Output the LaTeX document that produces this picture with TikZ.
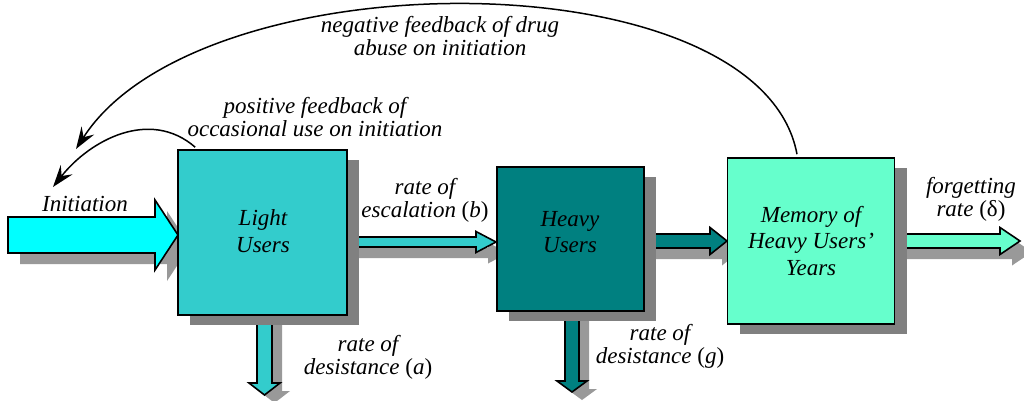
\documentclass[tikz,border=0pt]{standalone}
\usepackage{fontspec}
\setmainfont{Liberation Serif}
\newfontfamily\dgfont{Liberation Serif}
\usetikzlibrary{arrows.meta,shadows}
\definecolor{lightc}{HTML}{33CCCC}
\definecolor{heavyc}{HTML}{008080}
\definecolor{memc}{HTML}{66FFCC}
\definecolor{initc}{HTML}{00FFFF}
\definecolor{boxsh}{HTML}{808080}
\definecolor{arrsh}{HTML}{999999}
\newcommand{\blockH}[7]{%
  \fill[arrsh] ({#1+12},{#3-#4+11}) -- ({#2-#6+12},{#3-#4+11}) -- ({#2-#6+12},{#3-#5+11}) -- ({#2+12},{#3+11}) -- ({#2-#6+12},{#3+#5+11}) -- ({#2-#6+12},{#3+#4+11}) -- ({#1+12},{#3+#4+11}) -- cycle;
  \filldraw[fill=#7,draw=black,line width=1.6pt,line join=miter] (#1,{#3-#4}) -- ({#2-#6},{#3-#4}) -- ({#2-#6},{#3-#5}) -- (#2,#3) -- ({#2-#6},{#3+#5}) -- ({#2-#6},{#3+#4}) -- (#1,{#3+#4}) -- cycle;}
\newcommand{\blockV}[7]{%
  \fill[arrsh] ({#1-#4+10},{#2+8}) -- ({#1-#4+10},{#3-#6+8}) -- ({#1-#5+10},{#3-#6+8}) -- ({#1+10},{#3+8}) -- ({#1+#5+10},{#3-#6+8}) -- ({#1+#4+10},{#3-#6+8}) -- ({#1+#4+10},{#2+8}) -- cycle;
  \filldraw[fill=#7,draw=black,line width=1.6pt,line join=miter] ({#1-#4},#2) -- ({#1-#4},{#3-#6}) -- ({#1-#5},{#3-#6}) -- (#1,#3) -- ({#1+#5},{#3-#6}) -- ({#1+#4},{#3-#6}) -- ({#1+#4},#2) -- cycle;}
\begin{document}
\begin{tikzpicture}[x=1pt,y=-1pt,
  font=\dgfont\fontsize{23}{23}\selectfont\itshape,
  box/.style={draw=black,line width=1.6pt,inner sep=0pt,
    drop shadow={shadow xshift=12pt,shadow yshift=-10pt,fill=boxsh,opacity=1}},
  boxtxt/.style={align=center,inner sep=0pt,font=\dgfont\fontsize{23}{26.5}\selectfont\itshape},
  lbl/.style={align=center,inner sep=0pt},
  fb/.style={line width=1.5pt,-{Stealth[length=22pt,width=15pt,inset=8pt]}}]
\useasboundingbox (0,0) rectangle (1024,400);
% initiation arrow
\blockH{8}{178}{235}{18}{35}{23}{initc}
% desistance arrows (behind boxes)
\blockV{264.5}{300}{395}{7.5}{15.5}{12}{lightc}
\blockV{572}{300}{392}{7}{15}{11}{heavyc}
% flow arrows
\blockH{340}{496}{242}{5}{10.5}{20}{lightc}
\blockH{640}{727}{241}{7}{13.5}{17}{heavyc}
\blockH{890}{1020}{241}{7}{13.5}{20}{memc}
% boxes
\node[box,fill=lightc,minimum width=169pt,minimum height=165pt] (LU) at (262.5,232.5) {};
\node[box,fill=heavyc,minimum width=147pt,minimum height=144pt] (HU) at (570.5,239) {};
\node[box,fill=memc,minimum width=167pt,minimum height=166pt] (MEM) at (811,241) {};
\node[boxtxt] (LUt) at (263,231) {Light\\Users};
\node[boxtxt] (HUt) at (570,232) {Heavy\\Users};
\node[boxtxt] (MEMt) at (811,241) {Memory of\\Heavy Users’\\Years};
% feedback curves
\coordinate (negend) at (76,149);
\coordinate (posend) at (53,187);
\draw[fb] (MEM.north) ++(-14,-3) .. controls (760,-44) and (200,-44) .. (negend);
\draw[fb] (LU.north west) ++(18,-2) .. controls (150,108) and (90,140) .. (posend);
% labels
\node[lbl] (lneg) at (440,36) {negative feedback of drug\\abuse on initiation};
\node[lbl] (lpos) at (315,117) {positive feedback of\\occasional use on initiation};
\node[lbl] (linit) at (85,204) {Initiation};
\node[lbl] (lesc) at (425,200) {rate of\\escalation \textup{(}b\textup{)}};
\node[lbl] (lda) at (368,357) {rate of\\desistance \textup{(}a\textup{)}};
\node[lbl] (ldg) at (660,346) {rate of\\desistance \textup{(}g\textup{)}};
\node[lbl] (lfor) at (971,199) {forgetting\\rate \textup{(δ)}};
\end{tikzpicture}
\end{document}
